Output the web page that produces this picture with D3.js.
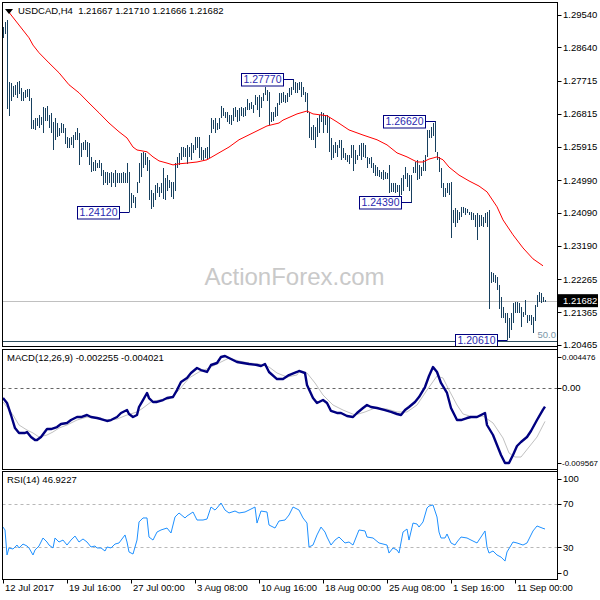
<!DOCTYPE html>
<html><head><meta charset="utf-8">
<script src="https://cdn.jsdelivr.net/npm/d3@7"></script>
<style>body{margin:0;background:#fff}svg{display:block}text{font-family:"Liberation Sans",Arial,sans-serif}</style>
</head><body><svg id="c" width="600" height="600"></svg>
<script>
// ---- data ----
const symbolHeader = "USDCAD,H4  1.21667 1.21710 1.21666 1.21682";
const highs = [1.2920,1.2934,1.2939,1.2769,1.2766,1.2758,1.2761,1.2769,1.2772,1.2752,
1.2741,1.2747,1.2750,1.2750,1.2725,1.2664,1.2670,1.2670,1.2678,1.2673,
1.2700,1.2697,1.2703,1.2678,1.2684,1.2659,1.2670,1.2656,1.2642,1.2656,
1.2653,1.2642,1.2618,1.2615,1.2618,1.2623,1.2631,1.2642,1.2629,1.2601,
1.2604,1.2610,1.2604,1.2601,1.2563,1.2549,1.2555,1.2546,1.2555,1.2546,
1.2527,1.2522,1.2522,1.2519,1.2522,1.2519,1.2527,1.2519,1.2519,1.2519,
1.2522,1.2519,1.2546,1.2522,1.2464,1.2459,1.2453,1.2494,1.2546,1.2574,
1.2577,1.2574,1.2563,1.2555,1.2472,1.2464,1.2486,1.2492,1.2481,1.2492,
1.2533,1.2505,1.2513,1.2500,1.2494,1.2494,1.2546,1.2563,1.2574,1.2590,
1.2590,1.2588,1.2596,1.2590,1.2601,1.2596,1.2618,1.2618,1.2618,1.2590,
1.2582,1.2588,1.2590,1.2623,1.2670,1.2664,1.2670,1.2656,1.2670,1.2703,
1.2697,1.2686,1.2686,1.2678,1.2678,1.2697,1.2700,1.2692,1.2697,1.2700,
1.2697,1.2700,1.2722,1.2711,1.2714,1.2706,1.2733,1.2728,1.2733,1.2728,
1.2739,1.2755,1.2747,1.2741,1.2686,1.2686,1.2700,1.2711,1.2739,1.2739,
1.2741,1.2733,1.2739,1.2752,1.2755,1.2777,1.2769,1.2766,1.2769,1.2769,
1.2755,1.2741,1.2739,1.2686,1.2645,1.2651,1.2645,1.2670,1.2678,1.2686,
1.2684,1.2678,1.2678,1.2673,1.2615,1.2596,1.2604,1.2596,1.2610,1.2610,
1.2588,1.2574,1.2568,1.2568,1.2596,1.2596,1.2582,1.2568,1.2596,1.2601,
1.2601,1.2596,1.2563,1.2560,1.2563,1.2546,1.2541,1.2535,1.2527,1.2522,
1.2527,1.2522,1.2519,1.2541,1.2492,1.2492,1.2492,1.2486,1.2486,1.2505,
1.2513,1.2535,1.2519,1.2513,1.2513,1.2535,1.2549,1.2555,1.2541,1.2535,
1.2555,1.2568,1.2637,1.2637,1.2645,1.2656,1.2662,1.2577,1.2563,1.2533,
1.2492,1.2478,1.2492,1.2492,1.2494,1.2417,1.2423,1.2417,1.2412,1.2426,
1.2426,1.2423,1.2420,1.2412,1.2412,1.2409,1.2404,1.2409,1.2404,1.2404,
1.2398,1.2409,1.2412,1.2417,1.2247,1.2244,1.2239,1.2233,1.2211,1.2178,
1.2151,1.2135,1.2135,1.2121,1.2135,1.2162,1.2165,1.2165,1.2162,1.2151,
1.2137,1.2170,1.2129,1.2129,1.2129,1.2124,1.2157,1.2184,1.2192,1.2189,
1.2178,1.2171];
const lows = [1.2892,1.2901,1.2697,1.2678,1.2719,1.2728,1.2733,1.2725,1.2736,1.2719,
1.2719,1.2725,1.2728,1.2719,1.2642,1.2642,1.2637,1.2648,1.2645,1.2651,
1.2629,1.2664,1.2662,1.2645,1.2631,1.2582,1.2610,1.2618,1.2623,1.2629,
1.2629,1.2601,1.2590,1.2588,1.2596,1.2590,1.2610,1.2610,1.2541,1.2563,
1.2582,1.2582,1.2563,1.2541,1.2522,1.2527,1.2527,1.2535,1.2533,1.2513,
1.2486,1.2494,1.2486,1.2492,1.2481,1.2494,1.2481,1.2494,1.2494,1.2494,
1.2494,1.2494,1.2494,1.2412,1.2423,1.2437,1.2423,1.2464,1.2494,1.2508,
1.2535,1.2541,1.2527,1.2445,1.2420,1.2426,1.2445,1.2464,1.2453,1.2464,
1.2450,1.2445,1.2472,1.2478,1.2453,1.2450,1.2472,1.2535,1.2541,1.2555,
1.2563,1.2563,1.2546,1.2563,1.2555,1.2574,1.2582,1.2588,1.2560,1.2555,
1.2555,1.2560,1.2555,1.2560,1.2629,1.2642,1.2631,1.2637,1.2642,1.2670,
1.2678,1.2670,1.2659,1.2656,1.2651,1.2664,1.2673,1.2659,1.2664,1.2678,
1.2673,1.2678,1.2692,1.2692,1.2697,1.2686,1.2706,1.2692,1.2673,1.2700,
1.2719,1.2733,1.2719,1.2651,1.2659,1.2664,1.2673,1.2678,1.2706,1.2711,
1.2714,1.2711,1.2714,1.2728,1.2733,1.2747,1.2741,1.2739,1.2747,1.2728,
1.2733,1.2714,1.2684,1.2615,1.2610,1.2610,1.2590,1.2618,1.2631,1.2659,
1.2631,1.2651,1.2629,1.2577,1.2555,1.2560,1.2574,1.2563,1.2588,1.2555,
1.2560,1.2555,1.2549,1.2546,1.2560,1.2527,1.2546,1.2555,1.2568,1.2555,
1.2563,1.2560,1.2535,1.2546,1.2535,1.2519,1.2513,1.2513,1.2508,1.2505,
1.2500,1.2505,1.2505,1.2464,1.2467,1.2467,1.2464,1.2467,1.2445,1.2459,
1.2472,1.2505,1.2481,1.2472,1.2439,1.2519,1.2519,1.2500,1.2505,1.2513,
1.2527,1.2527,1.2563,1.2615,1.2615,1.2623,1.2577,1.2555,1.2522,1.2478,
1.2453,1.2453,1.2464,1.2459,1.2343,1.2382,1.2371,1.2384,1.2390,1.2398,
1.2409,1.2404,1.2409,1.2404,1.2390,1.2390,1.2371,1.2335,1.2371,1.2376,
1.2371,1.2384,1.2371,1.2148,1.2217,1.2220,1.2217,1.2198,1.2148,1.2121,
1.2121,1.2107,1.2061,1.2066,1.2088,1.2107,1.2135,1.2135,1.2137,1.2096,
1.2124,1.2129,1.2107,1.2115,1.2102,1.2082,1.2115,1.2151,1.2165,1.2162,
1.2165,1.2167];
const lastClose = 1.21682;
const maIdx = [2,8,13,15,18,23,28,33,38,43,48,53,58,62,65,67,72,75,78,82,85,88,92,97,102,107,113,118,125,132,138,140,147,152,155,162,167,173,180,187,192,197,202,207,210,213,217,220,223,228,233,238,242,247,250,255,260,265,270];
const maVal = [1.2967,1.2925,1.2890,1.2870,1.2849,1.2821,1.2794,1.2761,1.2739,1.2711,1.2684,1.2656,1.2632,1.2615,1.2590,1.2582,1.2577,1.2563,1.2552,1.2546,1.2541,1.2544,1.2546,1.2549,1.2555,1.2571,1.2590,1.2610,1.2629,1.2648,1.2656,1.2664,1.2681,1.2689,1.2681,1.2676,1.2659,1.2637,1.2623,1.2610,1.2596,1.2574,1.2563,1.2549,1.2549,1.2557,1.2563,1.2555,1.2535,1.2513,1.2497,1.2483,1.2467,1.2426,1.2390,1.2349,1.2313,1.2283,1.2264];
const priceTicks = [1.29540,1.28640,1.27715,1.26815,1.25915,1.24990,1.24090,1.23190,1.22265,1.21365,1.20465];
const priceMarks = [{i:145,v:1.27770,hi:true},{i:63,v:1.24120,hi:false},{i:216,v:1.26620,hi:true},{i:204,v:1.24390,hi:false},{i:252,v:1.20610,hi:false}];
const fiboLevel = 1.20575, fiboText = "50.0";
const macdIdx = [0,2,4,6,8,11,12,14,16,17,19,22,24,27,29,32,34,37,39,42,44,47,49,52,54,57,59,62,63,65,67,68,70,72,73,75,77,80,82,85,87,89,92,94,97,99,102,104,107,109,111,113,117,120,123,127,129,131,133,137,140,143,147,148,151,152,155,157,160,162,164,167,169,172,175,177,180,182,184,187,191,194,197,199,201,203,206,208,211,213,215,217,219,222,224,227,229,232,234,237,239,241,242,245,247,249,251,253,255,257,259,262,264,267,270,271];
const macdVal = [-0.00124,-0.00183,-0.00326,-0.00481,-0.00540,-0.00540,-0.00528,-0.00588,-0.00624,-0.00624,-0.00588,-0.00493,-0.00493,-0.00469,-0.00433,-0.00421,-0.00386,-0.00350,-0.00350,-0.00326,-0.00350,-0.00362,-0.00374,-0.00397,-0.00386,-0.00350,-0.00302,-0.00267,-0.00314,-0.00350,-0.00326,-0.00231,-0.00148,-0.00064,-0.00124,-0.00171,-0.00171,-0.00148,-0.00124,-0.00112,-0.00029,0.00067,0.00114,0.00174,0.00233,0.00209,0.00186,0.00269,0.00293,0.00364,0.00376,0.00352,0.00305,0.00293,0.00281,0.00269,0.00257,0.00281,0.00186,0.00102,0.00102,0.00150,0.00186,0.00198,0.00174,0.00031,-0.00124,-0.00183,-0.00148,-0.00183,-0.00278,-0.00302,-0.00302,-0.00338,-0.00350,-0.00302,-0.00243,-0.00207,-0.00231,-0.00243,-0.00267,-0.00290,-0.00314,-0.00326,-0.00267,-0.00231,-0.00171,-0.00112,0.00007,0.00138,0.00245,0.00186,0.00055,-0.00064,-0.00243,-0.00386,-0.00386,-0.00362,-0.00350,-0.00350,-0.00326,-0.00302,-0.00445,-0.00564,-0.00683,-0.00802,-0.00897,-0.00897,-0.00802,-0.00695,-0.00647,-0.00588,-0.00516,-0.00386,-0.00262,-0.002255];
const sigIdx = [0,2,5,8,12,15,18,22,25,28,32,37,42,47,52,57,62,67,70,74,78,83,88,93,98,103,108,113,118,123,128,133,137,142,147,148,152,156,160,165,170,176,181,186,192,197,202,207,212,217,220,223,227,230,235,240,245,250,253,256,259,263,267,271];
const sigVal = [-0.00171,-0.00231,-0.00326,-0.00445,-0.00505,-0.00540,-0.00588,-0.00564,-0.00528,-0.00481,-0.00445,-0.00386,-0.00350,-0.00362,-0.00386,-0.00374,-0.00326,-0.00290,-0.00243,-0.00171,-0.00148,-0.00136,-0.00029,0.00114,0.00186,0.00233,0.00293,0.00352,0.00317,0.00293,0.00281,0.00245,0.00174,0.00126,0.00150,0.00186,0.00174,0.00055,-0.00088,-0.00207,-0.00267,-0.00326,-0.00290,-0.00243,-0.00255,-0.00290,-0.00290,-0.00207,-0.00029,0.00138,0.00114,-0.00029,-0.00207,-0.00314,-0.00350,-0.00338,-0.00421,-0.00600,-0.00778,-0.00826,-0.00826,-0.00707,-0.00588,-0.004021];
const macdTicks = [{v:0.004476,t:"0.004476"},{v:0,t:"0.00"},{v:-0.009567,t:"-0.009567"}];
const rsiIdx = [0,1,2,3,5,7,8,10,12,13,15,16,18,20,22,23,25,26,28,30,32,34,36,38,40,42,44,46,47,49,51,52,54,56,58,61,62,63,65,67,68,70,72,73,75,77,79,82,84,86,88,91,92,95,97,100,102,104,106,107,109,111,113,116,118,121,123,126,127,129,132,133,136,138,141,143,145,147,148,150,152,153,155,157,159,161,162,164,166,168,171,173,175,177,178,181,182,185,188,192,193,195,197,198,200,202,203,205,207,208,210,212,213,215,217,218,219,221,222,224,226,227,229,232,234,237,239,241,242,243,245,247,249,251,252,255,257,260,262,265,267,270,271];
const rsiVal = [48.7,46.0,22.9,29.4,28.4,32.1,29.4,33.0,31.2,29.4,22.9,27.5,31.2,38.6,34.9,32.1,29.4,38.6,34.9,36.7,32.1,36.7,40.4,34.9,37.7,34.9,30.3,31.2,29.4,29.4,26.6,30.3,29.4,33.0,34.0,41.4,34.9,25.7,23.8,36.7,53.4,57.1,57.1,39.5,36.7,44.1,46.0,47.8,43.2,58.0,61.7,57.1,58.9,62.6,55.2,55.2,56.1,67.2,64.4,66.3,70.9,64.4,61.7,63.5,61.7,62.6,64.4,67.2,52.4,63.5,62.6,50.6,47.8,54.3,55.2,59.8,67.2,65.4,64.4,57.1,52.4,30.3,32.1,41.4,48.7,44.1,39.5,32.1,36.7,39.5,34.0,34.9,32.1,41.4,46.0,45.1,39.5,38.6,34.0,32.1,24.7,29.4,27.5,24.7,44.1,46.9,36.7,52.4,51.5,48.7,53.4,66.3,68.1,69.1,58.0,44.1,38.6,38.6,42.3,34.0,32.1,34.9,39.5,38.6,36.7,34.0,39.5,45.1,30.3,24.7,26.6,22.9,21.0,17.3,25.7,34.9,34.0,32.1,34.0,45.1,49.7,47.5,46.92];
const rsiTicks = [100,70,30,0];
const rsiLevels = [70,30];
const timeIdx = [0,32,64,96,128,160,192,224,256];
const timeLabels = ["12 Jul 2017","19 Jul 16:00","27 Jul 00:00","3 Aug 08:00","10 Aug 16:00","18 Aug 00:00","25 Aug 08:00","1 Sep 16:00","11 Sep 00:00"];
const macdTitle = "MACD(12,26,9) -0.002255 -0.004021";
const rsiTitle = "RSI(14) 46.9227";
const watermark = "ActionForex.com";

// ---- layout ----
const svg = d3.select('#c');
const L = 2.5, R = 557.5;
const P1 = {t:2.5, b:346.5}, P2 = {t:349.5, b:469.5}, P3 = {t:471.5, b:579.5};
const x = d3.scaleLinear().domain([0,271]).range([3,545]);
const y = d3.scaleLinear().domain([1.20465,1.29540]).range([345,14.5]);
const yM = d3.scaleLinear().domain([-0.009567,0.004476]).range([468,350]);
const yR = d3.scaleLinear().domain([0,100]).range([579.8,471.5]);
const FONT = 9.5;
const defs = svg.append('defs');
[[P1,'c1'],[P2,'c2'],[P3,'c3']].forEach(([p,id])=>{
  defs.append('clipPath').attr('id',id).append('rect').attr('x',L).attr('y',p.t).attr('width',R-L).attr('height',p.b-p.t);
});

// watermark
svg.append('text').attr('x',294.5).attr('y',285).attr('text-anchor','middle')
  .style('font-size','24px').attr('fill','#c9c9c9').text(watermark);

// ---- main panel ----
const g1 = svg.append('g').attr('clip-path','url(#c1)');
g1.append('line').attr('x1',L).attr('x2',R).attr('y1',Math.round(y(lastClose))+0.5).attr('y2',Math.round(y(lastClose))+0.5)
  .attr('stroke','#c0c0c0');
g1.append('line').attr('x1',L).attr('x2',R).attr('y1',Math.round(y(fiboLevel))+0.5).attr('y2',Math.round(y(fiboLevel))+0.5)
  .attr('stroke','#2f4f5f');
svg.append('text').attr('x',556).attr('y',y(fiboLevel)-3).attr('text-anchor','end')
  .style('font-size',FONT+'px').attr('fill','#7d97a8').text(fiboText);
g1.append('g').selectAll('line').data(highs).join('line')
  .attr('x1',(d,i)=>x(i)+0.5).attr('x2',(d,i)=>x(i)+0.5)
  .attr('y1',d=>y(d)).attr('y2',(d,i)=>y(lows[i])+0.5)
  .attr('stroke','#17405f').attr('stroke-width',1).attr('shape-rendering','crispEdges');
g1.append('path').datum(maIdx.map((d,i)=>[d,maVal[i]]))
  .attr('d',d3.line().x(d=>x(d[0])).y(d=>y(d[1])))
  .attr('fill','none').attr('stroke','#ff0000').attr('stroke-width',1);
priceMarks.forEach(m=>{
  const bx = x(m.i), by = y(m.v);
  const w = 42, h = 12.5;
  const rx = Math.round(bx) - 10;
  g1.append('line').attr('x1',rx).attr('x2',bx+0.5).attr('y1',Math.round(by)+0.5).attr('y2',Math.round(by)+0.5).attr('stroke','#000080');
  g1.append('rect').attr('x',rx-w+0.5).attr('y',Math.round(by)-6+0.5).attr('width',w).attr('height',h)
    .attr('fill','#fff').attr('stroke','#000080');
  g1.append('text').attr('x',rx-w/2+0.5).attr('y',Math.round(by)+0.5).attr('dy','0.35em').attr('text-anchor','middle')
    .style('font-size','10.5px').attr('fill','#2a2ab0').text(m.v.toFixed(5));
});
svg.append('path').attr('d','M5,9L13,9L9,14Z').attr('fill','#000');
svg.append('text').attr('x',18).attr('y',11).attr('dy','0.35em').style('font-size',FONT+'px')
  .attr('fill','#000').attr('xml:space','preserve').style('white-space','pre').text(symbolHeader);

// ---- MACD panel ----
const g2 = svg.append('g').attr('clip-path','url(#c2)');
g2.append('line').attr('x1',L).attr('x2',R).attr('y1',Math.round(yM(0))+0.5).attr('y2',Math.round(yM(0))+0.5)
  .attr('stroke','#666').attr('stroke-dasharray','3,3');
g2.append('path').datum(sigIdx.map((d,i)=>[d,sigVal[i]]))
  .attr('d',d3.line().x(d=>x(d[0])).y(d=>yM(d[1])))
  .attr('fill','none').attr('stroke','#c0c0c0').attr('stroke-width',1);
g2.append('path').datum(macdIdx.map((d,i)=>[d,macdVal[i]]))
  .attr('d',d3.line().x(d=>x(d[0])).y(d=>yM(d[1])))
  .attr('fill','none').attr('stroke','#000080').attr('stroke-width',2.4).attr('stroke-linejoin','round');
svg.append('text').attr('x',7).attr('y',358).attr('dy','0.35em').style('font-size',FONT+'px').text(macdTitle);

// ---- RSI panel ----
const g3 = svg.append('g').attr('clip-path','url(#c3)');
g3.selectAll('line.lv').data(rsiLevels).join('line').attr('class','lv')
  .attr('x1',L).attr('x2',R).attr('y1',d=>Math.round(yR(d))+0.5).attr('y2',d=>Math.round(yR(d))+0.5)
  .attr('stroke','#b8b8b8').attr('stroke-dasharray','3,3');
g3.append('path').datum(rsiIdx.map((d,i)=>[d,rsiVal[i]]))
  .attr('d',d3.line().x(d=>x(d[0])).y(d=>yR(d[1])))
  .attr('fill','none').attr('stroke','#1e90ff').attr('stroke-width',1);
svg.append('text').attr('x',7).attr('y',480).attr('dy','0.35em').style('font-size',FONT+'px').text(rsiTitle);

// ---- frames ----
[P1,P2,P3].forEach(p=>{
  svg.append('rect').attr('x',L).attr('y',p.t).attr('width',R-L).attr('height',p.b-p.t)
    .attr('fill','none').attr('stroke','#000');
});
svg.append('line').attr('x1',R).attr('x2',R).attr('y1',P1.t).attr('y2',P3.b).attr('stroke','#000');

// ---- right axes ----
const ax = svg.append('g');
priceTicks.forEach(v=>{
  const yy = Math.round(y(v))+0.5;
  ax.append('line').attr('x1',R).attr('x2',R+4).attr('y1',yy).attr('y2',yy).attr('stroke','#000');
  ax.append('text').attr('x',563).attr('y',y(v)).attr('dy','0.35em').style('font-size',FONT+'px').text(v.toFixed(5));
});
ax.append('rect').attr('x',558).attr('y',y(lastClose)-6.5).attr('width',40).attr('height',13).attr('fill','#000');
ax.append('text').attr('x',563).attr('y',y(lastClose)).attr('dy','0.35em').style('font-size',FONT+'px')
  .attr('fill','#fff').text(lastClose.toFixed(5));
macdTicks.forEach((d,i)=>{
  const yy = yM(d.v);
  const ly = i===0 ? yy+7 : (i===2 ? yy-5 : yy+0.5);
  ax.append('line').attr('x1',R).attr('x2',R+4).attr('y1',Math.round(ly)+0.5).attr('y2',Math.round(ly)+0.5).attr('stroke','#000');
  ax.append('text').attr('x',562).attr('y',ly).attr('dy','0.35em')
    .style('font-size',(d.t.length>5?8:FONT)+'px').text(d.t);
});
rsiTicks.forEach(v=>{
  const yy = yR(v);
  const ly = v===100 ? yy+7 : (v===0 ? yy-7 : yy);
  ax.append('line').attr('x1',R).attr('x2',R+4).attr('y1',Math.round(ly)+0.5).attr('y2',Math.round(ly)+0.5).attr('stroke','#000');
  ax.append('text').attr('x',563).attr('y',ly).attr('dy','0.35em').style('font-size',FONT+'px').text(v);
});
timeIdx.forEach((d,i)=>{
  const xx = Math.round(x(d))+0.5;
  ax.append('line').attr('x1',xx).attr('x2',xx).attr('y1',P3.b).attr('y2',P3.b+4).attr('stroke','#000');
  ax.append('text').attr('x',xx+1.5).attr('y',588).attr('dy','0.35em').style('font-size',FONT+'px').text(timeLabels[i]);
});
</script></body></html>
